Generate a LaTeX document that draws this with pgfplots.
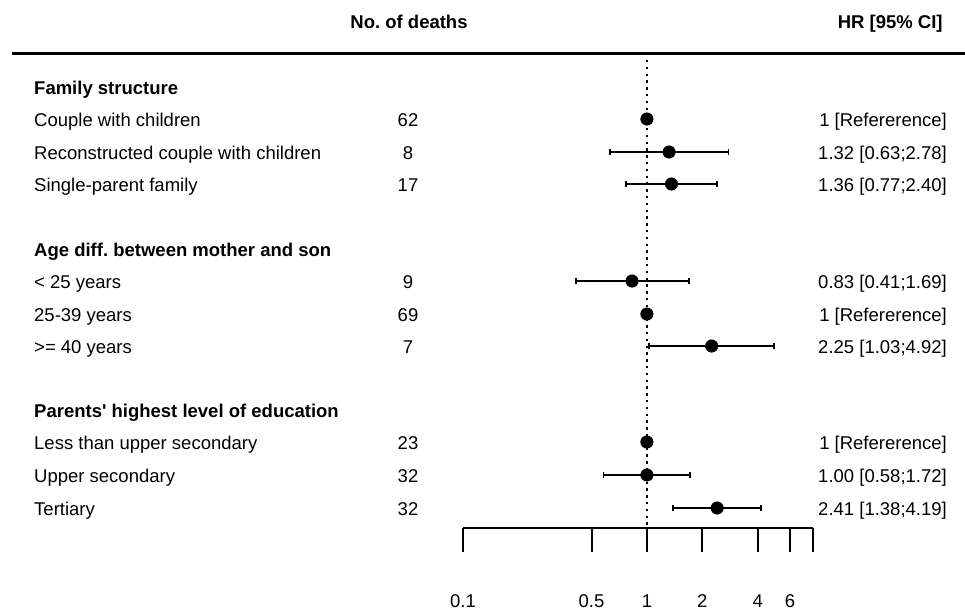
\documentclass[border=0pt]{standalone}
\usepackage{pgfplots}
\pgfplotsset{compat=1.18}
\usepackage{fontspec}
\setmainfont{Liberation Sans}
\begin{document}
\frenchspacing
\fontsize{18.5}{22}\selectfont
\begin{tikzpicture}[x=1pt,y=1pt]
\useasboundingbox (0,0) rectangle (965,-613);
\begin{axis}[
  at={(463pt,-528pt)}, anchor=south west,
  scale only axis, width=350pt, height=528pt,
  xmode=log, xmin=0.1, xmax=8, ymin=-528, ymax=0,
  clip=false,
  axis x line*=bottom, axis y line=none,
  axis line style={line width=2pt,-},
  xtick={0.1,0.5,1,2,4,6,8},
  xticklabels={0.1,0.5,1,2,4,6,{}},
  minor xtick={},
  tick align=outside, major tick length=24pt,
  xtick style={line width=2pt,black},
  xticklabel style={yshift=-36pt,font=\fontsize{18.5}{22}\selectfont},
]
\addplot[black, dash pattern=on 2.4pt off 4.4pt, line width=2.2pt] coordinates {(1,-60) (1,-528)};
\addplot[black, only marks, mark=*, mark size=6.3pt,
  error bars/.cd, x dir=both, x explicit, error mark=|,
  error bar style={line width=2.2pt,black},
  error mark options={mark size=3.2pt, line width=1.8pt, black}]
  table[x=x, y=y, x error plus=ep, x error minus=em] {
x    y    ep   em
1.32 -152 1.46 0.69
1.36 -184 1.04 0.59
0.83 -281 0.86 0.42
2.25 -346 2.67 1.22
1.00 -475 0.72 0.42
2.41 -508 1.78 1.03
};
\addplot[black, only marks, mark=*, mark size=6.3pt] table[x=x,y=y] {
x y
1 -119
1 -314
1 -442
};
\end{axis}
\draw[line width=3pt] (12,-53) -- (965,-53);
\node[anchor=base, font=\bfseries\fontsize{18.5}{22}\selectfont] at (409,-28) {No. of deaths};
\node[anchor=base east, font=\bfseries\fontsize{18.5}{22}\selectfont] at (949,-28) {HR [95\% CI]};
\begin{scope}[every node/.style={inner sep=0pt}]
\node[anchor=base west, font=\bfseries\fontsize{18.5}{22}\selectfont] at (34,-94) {Family structure};
\node[anchor=base west] at (34,-126) {Couple with children};
\node[anchor=base west] at (34,-159) {Reconstructed couple with children};
\node[anchor=base west] at (34,-191) {Single-parent family};
\node[anchor=base west, font=\bfseries\fontsize{18.5}{22}\selectfont] at (34,-256) {Age diff. between mother and son};
\node[anchor=base west] at (34,-288) {< 25 years};
\node[anchor=base west] at (34,-321) {25-39 years};
\node[anchor=base west] at (34,-353) {>= 40 years};
\node[anchor=base west, font=\bfseries\fontsize{18.5}{22}\selectfont] at (34,-417) {Parents\textquotesingle\ highest level of education};
\node[anchor=base west] at (34,-449) {Less than upper secondary};
\node[anchor=base west] at (34,-482) {Upper secondary};
\node[anchor=base west] at (34,-515) {Tertiary};
\node[anchor=base] at (408,-126) {62};
\node[anchor=base] at (408,-159) {8};
\node[anchor=base] at (408,-191) {17};
\node[anchor=base] at (408,-288) {9};
\node[anchor=base] at (408,-321) {69};
\node[anchor=base] at (408,-353) {7};
\node[anchor=base] at (408,-449) {23};
\node[anchor=base] at (408,-482) {32};
\node[anchor=base] at (408,-515) {32};
\node[anchor=base east] at (947,-126) {1 [Refererence]};
\node[anchor=base east] at (947,-159) {1.32 [0.63;2.78]};
\node[anchor=base east] at (947,-191) {1.36 [0.77;2.40]};
\node[anchor=base east] at (947,-288) {0.83 [0.41;1.69]};
\node[anchor=base east] at (947,-321) {1 [Refererence]};
\node[anchor=base east] at (947,-353) {2.25 [1.03;4.92]};
\node[anchor=base east] at (947,-449) {1 [Refererence]};
\node[anchor=base east] at (947,-482) {1.00 [0.58;1.72]};
\node[anchor=base east] at (947,-515) {2.41 [1.38;4.19]};
\end{scope}
\end{tikzpicture}
\end{document}
